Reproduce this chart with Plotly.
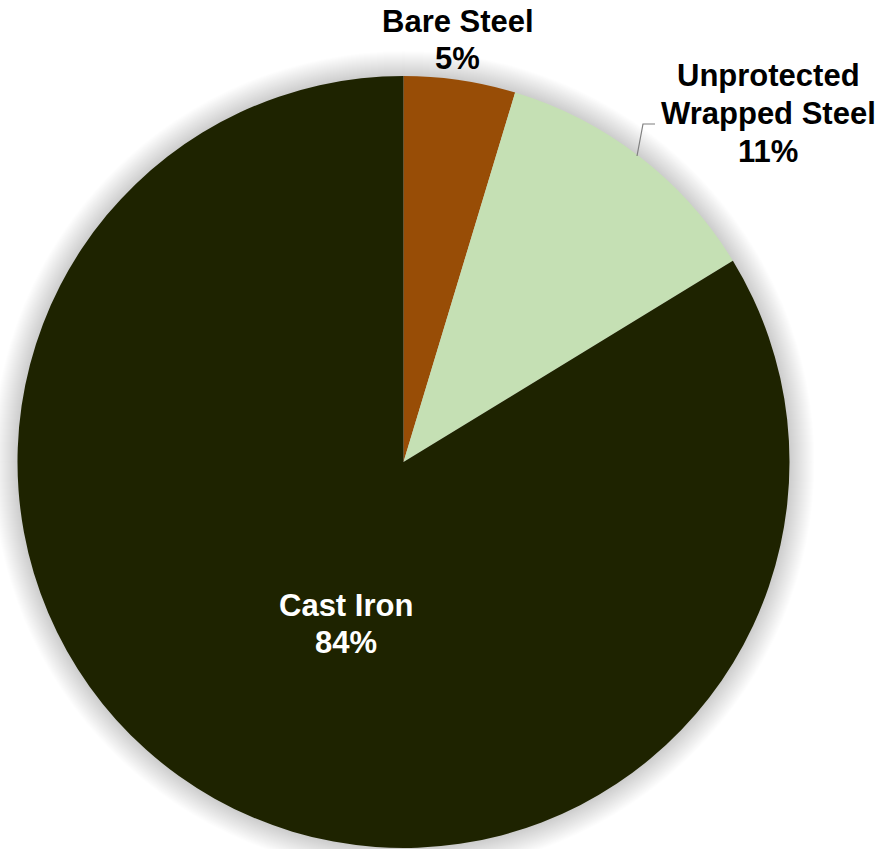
import plotly.graph_objects as go

W, H = 888, 849

labels = ["Bare Steel", "Unprotected Wrapped Steel", "Cast Iron"]
# slice shares as measured from the slice angles in the picture
values = [4.67, 11.6, 83.73]
colors = ["#984D06", "#C5E0B4", "#1E2300"]
label_lines = [["Bare Steel", "5%"], ["Unprotected", "Wrapped Steel", "11%"], ["Cast Iron", "84%"]]
label_colors = ["#000000", "#000000", "#FFFFFF"]

# pie geometry (pixels)
cx, cy, r = 403.5, 462.0, 386.0

def px(x):
    return x / W

def py(y):
    return (H - y) / H

fig = go.Figure()
fig.add_trace(go.Pie(
    labels=labels,
    values=values,
    marker=dict(colors=colors, line=dict(width=0)),
    sort=False,
    direction="clockwise",
    rotation=0,
    textinfo="none",
    hoverinfo="label+percent",
    showlegend=False,
    domain=dict(x=[px(cx - r), px(cx + r)], y=[py(cy + r), py(cy - r)]),
))

shapes = []
# soft shadow around pie
for i in range(1, 26):
    rr = r + i * 1.0
    shapes.append(dict(
        type="circle", xref="paper", yref="paper", layer="below",
        x0=px(cx - rr), x1=px(cx + rr), y0=py(cy + rr), y1=py(cy - rr),
        fillcolor="rgba(0,0,0,0.0065)", line=dict(width=0),
    ))
# leader line for Unprotected Wrapped Steel
shapes.append(dict(
    type="path", xref="paper", yref="paper",
    path=f"M {px(637)} {py(156)} L {px(643)} {py(124)} L {px(655)} {py(124)}",
    line=dict(color="#7F7F7F", width=1.2),
))

# label anchor positions (pixels): centre x, first line y, line step
label_pos = [(458, 22, 36), (768, 76, 37.5), (346, 605, 37)]

annotations = []
for lines, col, (lx, ly, step) in zip(label_lines, label_colors, label_pos):
    for k, line in enumerate(lines):
        annotations.append(dict(
            x=px(lx), y=py(ly + k * step), xref="paper", yref="paper",
            text=f"<b>{line}</b>", showarrow=False,
            xanchor="center", yanchor="middle", align="center",
            font=dict(family="Liberation Sans, Arial, sans-serif", size=31, color=col),
        ))

fig.update_layout(
    width=W, height=H,
    margin=dict(l=0, r=0, t=0, b=0),
    paper_bgcolor="#FFFFFF",
    plot_bgcolor="#FFFFFF",
    shapes=shapes,
    annotations=annotations,
)

fig.write_html("out.html", config={"displayModeBar": False},
               post_script="document.body.style.margin='0';")
